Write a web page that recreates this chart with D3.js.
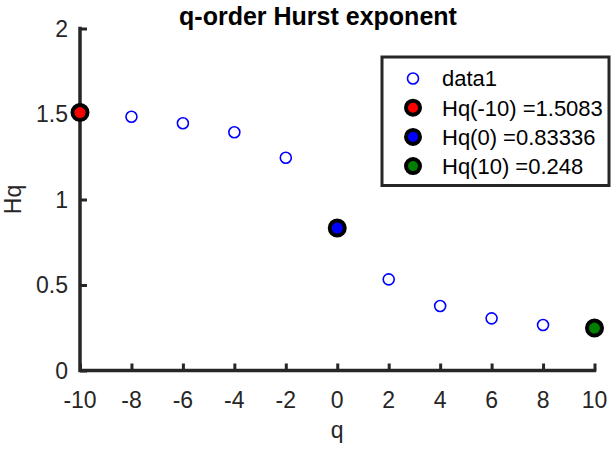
<!DOCTYPE html>
<html>
<head>
<meta charset="utf-8">
<script src="https://cdn.jsdelivr.net/npm/d3@7"></script>
<style>
  body { margin: 0; background: #fff; }
  svg { display: block; font-family: "Liberation Sans", Arial, Helvetica, sans-serif; }
</style>
</head>
<body>
<svg id="chart"></svg>
<script>
// q values and the generalized Hurst exponent
const qValues = [-10, -8, -6, -4, -2, 0, 2, 4, 6, 8, 10];
const hqValues = [1.5083, 1.484, 1.446, 1.393, 1.244, 0.83336, 0.533, 0.377, 0.305, 0.266, 0.248];

// highlighted points
const highlightQ = [-10, 0, 10];
const highlightHq = [1.5083, 0.83336, 0.248];
const highlightColors = ["#ff0000", "#0000ff", "#007f00"];
const legendLabels = ["data1", "Hq(-10) =1.5083", "Hq(0) =0.83336", "Hq(10) =0.248"];

const xTicks = [-10, -8, -6, -4, -2, 0, 2, 4, 6, 8, 10];
const yTicks = [0, 0.5, 1, 1.5, 2];

const config = {
  width: 613,
  height: 453,
  margin: {top: 28.5, left: 80, right: 18.5, bottom: 82.5}
};
const axisColor = "#262626";

const svg = d3.select("#chart")
    .attr("width", config.width)
    .attr("height", config.height);

const innerW = config.width - config.margin.left - config.margin.right;
const innerH = config.height - config.margin.top - config.margin.bottom;

const x = d3.scaleLinear().domain([-10, 10]).range([0, innerW]);
const y = d3.scaleLinear().domain([0, 2]).range([innerH, 0]);

const chart = svg.append("g")
    .attr("transform", `translate(${config.margin.left},${config.margin.top})`);

// x axis: ticks point inward (upwards)
const xAxisG = chart.append("g")
    .attr("transform", `translate(0,${innerH})`)
    .call(d3.axisTop(x).tickValues(xTicks).tickSize(7).tickFormat(""));
xAxisG.selectAll("line").attr("stroke", axisColor).attr("stroke-width", 3);
xAxisG.select(".domain").remove();

xAxisG.selectAll(".xlab")
    .data(xTicks)
  .join("text")
    .attr("class", "xlab")
    .attr("x", d => x(d))
    .attr("y", 37)
    .attr("text-anchor", "middle")
    .attr("font-size", 23)
    .attr("fill", axisColor)
    .text(d => d);

// y axis: ticks point inward (right)
const yAxisG = chart.append("g")
    .call(d3.axisRight(y).tickValues(yTicks).tickSize(7).tickFormat(""));
yAxisG.selectAll("line").attr("stroke", axisColor).attr("stroke-width", 3);
yAxisG.select(".domain").remove();

yAxisG.selectAll(".ylab")
    .data(yTicks)
  .join("text")
    .attr("class", "ylab")
    .attr("x", -12)
    .attr("y", d => y(d))
    .attr("dy", "0.36em")
    .attr("text-anchor", "end")
    .attr("font-size", 23)
    .attr("fill", axisColor)
    .text(d => d);

// axis lines (box off, only left and bottom)
chart.append("path")
    .attr("d", `M0,0V${innerH}H${innerW}`)
    .attr("fill", "none")
    .attr("stroke", axisColor)
    .attr("stroke-width", 3.5)
    .attr("stroke-linecap", "square");

// axis titles
svg.append("text")
    .attr("x", config.margin.left + innerW / 2)
    .attr("y", 438)
    .attr("text-anchor", "middle")
    .attr("font-size", 23)
    .attr("fill", axisColor)
    .text("q");

svg.append("text")
    .attr("transform", `translate(21,${config.margin.top + innerH / 2}) rotate(-90)`)
    .attr("text-anchor", "middle")
    .attr("font-size", 23)
    .attr("fill", axisColor)
    .text("Hq");

svg.append("text")
    .attr("x", 318)
    .attr("y", 25)
    .attr("text-anchor", "middle")
    .attr("font-size", 25)
    .attr("font-weight", "bold")
    .attr("fill", "#000")
    .text("q-order Hurst exponent");

// data1 open circles
chart.selectAll(".pt")
    .data(qValues.map((q, i) => ({q: q, h: hqValues[i]})))
  .join("circle")
    .attr("class", "pt")
    .attr("cx", d => x(d.q))
    .attr("cy", d => y(d.h))
    .attr("r", 5.5)
    .attr("fill", "none")
    .attr("stroke", "#0000ff")
    .attr("stroke-width", 1.6);

// highlighted filled markers
chart.selectAll(".hl")
    .data(highlightQ.map((q, i) => ({q: q, h: highlightHq[i], c: highlightColors[i]})))
  .join("circle")
    .attr("class", "hl")
    .attr("cx", d => x(d.q))
    .attr("cy", d => y(d.h))
    .attr("r", 7.5)
    .attr("fill", d => d.c)
    .attr("stroke", "#000")
    .attr("stroke-width", 4);

// legend
const legend = svg.append("g");
legend.append("rect")
    .attr("x", 382)
    .attr("y", 57)
    .attr("width", 227)
    .attr("height", 128.5)
    .attr("fill", "#fff")
    .attr("stroke", axisColor)
    .attr("stroke-width", 3);

const rows = legend.selectAll(".row")
    .data(legendLabels)
  .join("g")
    .attr("class", "row")
    .attr("transform", (d, i) => `translate(413,${78.5 + i * 29.2})`);

rows.append("circle")
    .attr("r", (d, i) => i === 0 ? 5.5 : 7)
    .attr("fill", (d, i) => i === 0 ? "none" : highlightColors[i - 1])
    .attr("stroke", (d, i) => i === 0 ? "#0000ff" : "#000")
    .attr("stroke-width", (d, i) => i === 0 ? 1.6 : 4);

rows.append("text")
    .attr("x", 29)
    .attr("dy", "0.36em")
    .attr("font-size", 22)
    .attr("fill", "#000")
    .text(d => d);
</script>
</body>
</html>
